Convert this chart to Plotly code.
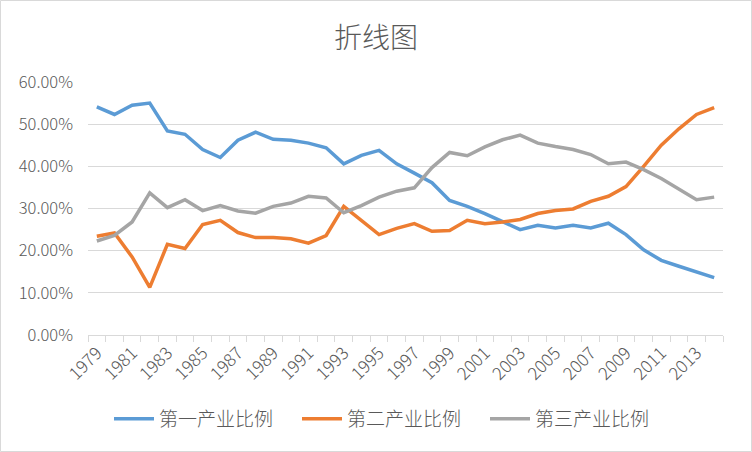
import plotly.graph_objects as go

years = list(range(1979, 2015))
primary = [54.1, 52.3, 54.5, 55.0, 48.4, 47.6, 44.0, 42.1, 46.2, 48.1, 46.4, 46.2,
           45.5, 44.4, 40.6, 42.6, 43.8, 40.6, 38.4, 36.1, 31.9, 30.5, 28.8, 26.8,
           25.0, 26.0, 25.4, 26.0, 25.4, 26.5, 23.8, 20.2, 17.7, 16.3, 14.9, 13.6]
secondary = [23.4, 24.2, 18.5, 11.3, 21.5, 20.5, 26.2, 27.2, 24.3, 23.1, 23.1, 22.8,
             21.8, 23.6, 30.5, 27.2, 23.8, 25.3, 26.4, 24.6, 24.8, 27.2, 26.4, 26.8,
             27.4, 28.8, 29.5, 29.9, 31.7, 32.9, 35.2, 40.0, 45.0, 48.9, 52.3, 53.9]
tertiary = [22.3, 23.6, 26.8, 33.7, 30.2, 32.1, 29.5, 30.7, 29.4, 28.9, 30.5, 31.3,
            32.9, 32.5, 29.0, 30.7, 32.7, 34.1, 34.9, 39.7, 43.3, 42.5, 44.6, 46.3,
            47.4, 45.5, 44.7, 44.0, 42.8, 40.6, 41.0, 39.2, 37.1, 34.7, 32.1, 32.7]
series_names = ["第一产业比例", "第二产业比例", "第三产业比例"]
colors = ["#5B9BD5", "#ED7D31", "#A5A5A5"]
title_text = "折线图"
label_years = list(range(1979, 2015, 2))

W, H = 752, 452
ml, mr, mt, mb = 88, 29, 82, 117
pw, ph = W - ml - mr, H - mt - mb

font_family = "Noto Sans CJK SC, Noto Sans, sans-serif"
text_color = "#595959"
grid_color = "#D9D9D9"

fig = go.Figure()
for name, vals, col in zip(series_names, [primary, secondary, tertiary], colors):
    fig.add_trace(go.Scatter(
        x=years, y=[v / 100 for v in vals], name=name, mode="lines",
        line=dict(color=col, width=3.5),
    ))

fig.update_layout(
    width=W, height=H,
    margin=dict(l=ml, r=mr, t=mt, b=mb, autoexpand=False),
    paper_bgcolor="white", plot_bgcolor="white",
    font=dict(family=font_family, color=text_color, size=16, weight=300),
    title=dict(text=title_text, x=0.5, xref="container", xanchor="center",
               y=1 - 38 / H, yref="container", yanchor="middle",
               font=dict(size=28, color=text_color, family=font_family, weight=300)),
    legend=dict(orientation="h", x=0.5 + 15 / W, xref="container", xanchor="center",
                y=1 - 419 / H, yref="container", yanchor="middle",
                font=dict(size=19, color=text_color, weight=300), itemwidth=40,
                entrywidth=133, entrywidthmode="pixels",
                traceorder="normal"),
    showlegend=True,
)
fig.update_xaxes(
    range=[1978.5, 2014.5], tickmode="array", tickvals=label_years,
    ticktext=[str(y) for y in label_years], tickangle=-45, automargin=False,
    showgrid=False, zeroline=False, showline=True, linecolor=grid_color, linewidth=1,
    ticks="", tickfont=dict(size=17.5, color=text_color, weight=300),
    minor=dict(tickmode="array", tickvals=[y - 0.5 for y in range(1979, 2016)],
               ticks="outside", ticklen=6, tickcolor=grid_color, tickwidth=1, showgrid=False),
)
fig.update_yaxes(
    range=[0, 0.6], dtick=0.1, tickformat=".2%", showgrid=True, gridcolor=grid_color,
    gridwidth=1, zeroline=False, showline=False, ticks="", automargin=False,
    tickfont=dict(size=16.5, color=text_color, weight=300), ticklabelstandoff=14,
)
fig.add_shape(type="rect", xref="paper", yref="paper",
              x0=(0.5 - ml) / pw, x1=(W - 0.5 - ml) / pw,
              y0=(mt + ph - (H - 0.5)) / ph, y1=(mt + ph - 0.5) / ph,
              line=dict(color=grid_color, width=1), fillcolor="rgba(0,0,0,0)", layer="below")

fig.write_html("out.html", config={"displayModeBar": False},
               post_script="document.body.style.margin='0';document.body.style.overflow='hidden';")
